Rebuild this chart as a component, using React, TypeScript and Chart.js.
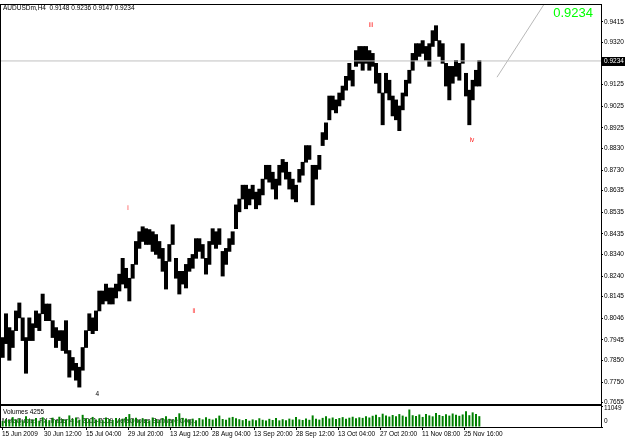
import React, { useEffect, useRef } from 'react';
import { Chart, registerables } from 'chart.js';
Chart.register(...registerables);

// ---------- data ----------
const titleText = 'AUDUSDm,H4  0.9148 0.9236 0.9147 0.9234';
const lastPrice = 0.9234;
const totalColumns = 180;

// high / low per column (each column groups a few H4 bars)
const priceHigh = [
  0.7956, 0.8066, 0.8002, 0.7988, 0.8079, 0.8116, 0.8047, 0.7956, 0.8047, 0.8020,
  0.8079, 0.8066, 0.8157, 0.8111, 0.8111, 0.8034, 0.8002, 0.7988, 0.7988, 0.8034,
  0.7896, 0.7864, 0.7837, 0.7819, 0.7910, 0.7988, 0.8066, 0.8047, 0.8079, 0.8171,
  0.8171, 0.8203, 0.8185, 0.8185, 0.8203, 0.8249, 0.8322, 0.8276, 0.8230, 0.8294,
  0.8400, 0.8445, 0.8468, 0.8459, 0.8455, 0.8445, 0.8432, 0.8400, 0.8368, 0.8308,
  0.8386, 0.8477, 0.8322, 0.8262, 0.8262, 0.8294, 0.8322, 0.8340, 0.8413, 0.8413,
  0.8386, 0.8322, 0.8400, 0.8459, 0.8445, 0.8459, 0.8354, 0.8368, 0.8413, 0.8445,
  0.8569, 0.8596, 0.8660, 0.8660, 0.8642, 0.8660, 0.8628, 0.8642, 0.8688, 0.8752,
  0.8752, 0.8720, 0.8688, 0.8752, 0.8779, 0.8766, 0.8720, 0.8688, 0.8660, 0.8733,
  0.8766, 0.8843, 0.8843, 0.8752, 0.8752, 0.8798, 0.8903, 0.8948, 0.9072, 0.9072,
  0.9054, 0.9086, 0.9118, 0.9163, 0.9223, 0.9191, 0.9282, 0.9301, 0.9301, 0.9301,
  0.9282, 0.9269, 0.9223, 0.9177, 0.9086, 0.9177, 0.9145, 0.9072, 0.9054, 0.9026,
  0.9086, 0.9145, 0.9191, 0.9269, 0.9314, 0.9314, 0.9328, 0.9301, 0.9314, 0.9374,
  0.9397, 0.9328, 0.9314, 0.9223, 0.9209, 0.9209, 0.9237, 0.9223, 0.9314, 0.9177,
  0.9099, 0.9145, 0.9191, 0.9236,
];
const priceLow = [
  0.7864, 0.7928, 0.7851, 0.7910, 0.7988, 0.8047, 0.7942, 0.7791, 0.7942, 0.7942,
  0.8002, 0.7988, 0.8066, 0.8034, 0.8034, 0.7956, 0.7910, 0.7942, 0.7896, 0.7883,
  0.7773, 0.7805, 0.7759, 0.7727, 0.7805, 0.7910, 0.7988, 0.7974, 0.7988, 0.8079,
  0.8111, 0.8125, 0.8111, 0.8111, 0.8139, 0.8171, 0.8203, 0.8185, 0.8125, 0.8230,
  0.8294, 0.8368, 0.8400, 0.8386, 0.8386, 0.8354, 0.8340, 0.8322, 0.8262, 0.8180,
  0.8308, 0.8386, 0.8230, 0.8157, 0.8203, 0.8185, 0.8262, 0.8276, 0.8322, 0.8354,
  0.8322, 0.8249, 0.8294, 0.8386, 0.8368, 0.8386, 0.8240, 0.8294, 0.8354, 0.8386,
  0.8459, 0.8537, 0.8596, 0.8551, 0.8569, 0.8596, 0.8551, 0.8569, 0.8615, 0.8688,
  0.8674, 0.8642, 0.8596, 0.8660, 0.8720, 0.8688, 0.8642, 0.8596, 0.8583, 0.8674,
  0.8706, 0.8766, 0.8779, 0.8569, 0.8688, 0.8733, 0.8843, 0.8871, 0.8962, 0.9008,
  0.8994, 0.9026, 0.9054, 0.9099, 0.9145, 0.9118, 0.9209, 0.9223, 0.9191, 0.9223,
  0.9191, 0.9209, 0.9131, 0.9086, 0.8939, 0.9086, 0.9054, 0.8980, 0.8962, 0.8912,
  0.9008, 0.9072, 0.9131, 0.9191, 0.9237, 0.9255, 0.9269, 0.9237, 0.9209, 0.9301,
  0.9328, 0.9255, 0.9223, 0.9118, 0.9054, 0.9131, 0.9163, 0.9145, 0.9223, 0.9072,
  0.8939, 0.9054, 0.9118, 0.9118,
];
const volumes = [
  3200, 4100, 3600, 5200, 3900, 4400, 3500, 5600, 4200, 3800, 4700, 3300, 5100, 4000, 3600, 4900, 3700, 5400,
  4200, 3900, 6100, 4300, 5000, 3800, 6400, 4600, 4100, 5300, 3900, 4500, 3600, 5000, 4200, 3700, 4800, 4000,
  4400, 5200, 6800, 4300, 4900, 3800, 4600, 4100, 3500, 5000, 4200, 3700, 4700, 5600, 4300, 3900, 5200, 7200,
  4800, 4500, 3800, 4400, 3600, 4700, 4000, 5100, 4300, 3900, 4600, 6000, 4200, 3800, 4900, 5300, 4600, 4100,
  3600, 4200, 3300, 4000, 3500, 4600, 3800, 3400, 4300, 3700, 4800, 3500, 4100, 3600, 4400, 3900, 5200, 4000,
  3700, 4500, 3800, 6100, 4400, 3900, 4800, 5600, 4500, 5000, 4200, 4700, 5200, 4400, 4900, 5400, 4600, 5100,
  4800, 5600, 5000, 5900, 6400, 5200, 7000, 6100, 5500, 6300, 5700, 6800, 6000, 5400, 9200, 6200, 5800, 6600,
  5300, 6900, 6100, 5600, 7400, 6300, 5800, 6700, 6000, 7100, 6400, 5900, 6600, 8300, 6200, 7700, 6800, 5700,
];
const volumeMax = 11049;
const volumeTicks = [11049, 0];
const volumeTitle = 'Volumes 4255';
const copyrightText = 'MetaQuotes FX Trader 4 \u00a9 2001-2009 MetaQuotes Software Corp.';

const priceAxisMax = 0.9493;
const priceAxisMin = 0.7649;
const priceTicks = [
  0.9415, 0.932, 0.9125, 0.9025, 0.8925, 0.883, 0.873, 0.8635, 0.8535, 0.8435,
  0.834, 0.824, 0.8145, 0.8046, 0.7945, 0.785, 0.775, 0.7655,
];

const dateLabels = [
  '15 Jun 2009', '30 Jun 12:00', '15 Jul 04:00', '29 Jul 20:00', '13 Aug 12:00', '28 Aug 04:00',
  '13 Sep 20:00', '28 Sep 12:00', '13 Oct 04:00', '27 Oct 20:00', '11 Nov 08:00', '25 Nov 16:00',
];
const dateColumns = [-0.2, 12.4, 25.0, 37.6, 50.2, 62.8, 75.4, 88.0, 100.6, 113.2, 125.8, 138.4];

const waveText = ['i', 'ii', 'iii', 'iv', '4'];
const waveColumn = [37.6, 57.4, 110.5, 140.8, 28.4];
const wavePrice = [0.8555, 0.8079, 0.9397, 0.8866, 0.7695];
const waveColor = ['#ff2020', '#ff2020', '#ff2020', '#ff2020', '#000000'];

const trendColumns = [148.3, 162.3];
const trendPrices = [0.9159, 0.9493];

// ---------- styling ----------
const FONT = 'Liberation Sans';
const W = 625;
const AXIS_W = 24;

export default function App() {
  const mainRef = useRef<HTMLCanvasElement>(null);
  const volRef = useRef<HTMLCanvasElement>(null);

  useEffect(() => {
    const frame = {
      id: 'frame',
      afterDraw(chart: any) {
        const { ctx, chartArea } = chart;
        ctx.save();
        ctx.strokeStyle = '#000';
        ctx.lineWidth = 1;
        ctx.strokeRect(0.5, Math.round(chartArea.top) - 0.5, Math.round(chartArea.right), Math.round(chartArea.bottom - chartArea.top) + 1);
        ctx.restore();
      },
    };

    const mainDecor = {
      id: 'mainDecor',
      afterDraw(chart: any) {
        const { ctx, scales, chartArea } = chart;
        const xs = scales.x;
        const ys = scales.y;
        ctx.save();
        ctx.fillStyle = '#000';
        ctx.font = `6.5px "${FONT}"`;
        ctx.textBaseline = 'alphabetic';
        ctx.textAlign = 'left';
        ctx.fillText(titleText, 3, 10);
        ctx.fillStyle = '#00ff00';
        ctx.font = `13px "${FONT}"`;
        ctx.textAlign = 'right';
        ctx.fillText(lastPrice.toFixed(4), 593, 17);
        ctx.font = `6.5px "${FONT}"`;
        ctx.textAlign = 'center';
        ctx.textBaseline = 'middle';
        waveText.forEach((t, i) => {
          ctx.fillStyle = waveColor[i];
          ctx.fillText(t, xs.getPixelForValue(waveColumn[i]), ys.getPixelForValue(wavePrice[i]));
        });
        const py = Math.round(ys.getPixelForValue(lastPrice));
        ctx.fillStyle = '#000';
        ctx.fillRect(chartArea.right + 1, py - 4, AXIS_W - 1, 9);
        ctx.fillStyle = '#fff';
        ctx.textAlign = 'left';
        ctx.fillText(lastPrice.toFixed(4), chartArea.right + 3, py + 0.5);
        ctx.restore();
      },
    };

    const main = new Chart(mainRef.current!, {
      type: 'bar',
      data: {
        datasets: [
          {
            type: 'line',
            data: [
              { x: -0.5, y: lastPrice },
              { x: totalColumns - 0.5, y: lastPrice },
            ],
            borderColor: '#c0c0c0',
            borderWidth: 1,
            pointRadius: 0,
          } as any,
          {
            type: 'line',
            data: trendColumns.map((c, i) => ({ x: c, y: trendPrices[i] })),
            borderColor: '#b8b8b8',
            borderWidth: 1,
            pointRadius: 0,
          } as any,
          {
            type: 'bar',
            data: priceHigh.map((h, i) => ({ x: i, y: [priceLow[i], h] })),
            backgroundColor: '#000',
            borderWidth: 0,
            barPercentage: 1,
            categoryPercentage: 1,
            grouped: false,
          } as any,
        ],
      },
      options: {
        animation: false,
        responsive: false,
        maintainAspectRatio: false,
        devicePixelRatio: 1,
        layout: { padding: { left: 1, top: 1, right: 0, bottom: 8 } },
        plugins: { legend: { display: false }, tooltip: { enabled: false } },
        scales: {
          x: { type: 'linear', min: -0.5, max: totalColumns - 0.5, display: false, offset: false },
          y: {
            position: 'right',
            min: priceAxisMin,
            max: priceAxisMax,
            afterFit: (s: any) => {
              s.width = AXIS_W;
            },
            afterBuildTicks: (s: any) => {
              s.ticks = priceTicks.map((v) => ({ value: v }));
            },
            ticks: {
              font: { family: FONT, size: 6.5 },
              color: '#000',
              padding: 1,
              callback: (v: any) => Number(v).toFixed(4),
            },
            grid: { drawOnChartArea: false, tickLength: 2, color: '#000' },
            border: { display: false },
          },
        },
      } as any,
      plugins: [frame, mainDecor],
    });

    const volDecor = {
      id: 'volDecor',
      beforeDatasetsDraw(chart: any) {
        const { ctx, chartArea } = chart;
        ctx.save();
        ctx.fillStyle = '#000';
        ctx.font = `6.5px "${FONT}"`;
        ctx.textAlign = 'left';
        ctx.textBaseline = 'alphabetic';
        ctx.fillText(volumeTitle, 3, chartArea.top + 8);
        ctx.fillText(copyrightText, 2, chartArea.top + 17);
        ctx.restore();
      },
      afterDraw(chart: any) {
        const { ctx, chartArea, scales } = chart;
        const ys = scales.y;
        ctx.save();
        ctx.fillStyle = '#000';
        ctx.font = `6.5px "${FONT}"`;
        ctx.textAlign = 'left';
        ctx.textBaseline = 'middle';
        volumeTicks.forEach((v, i) => {
          const y = ys.getPixelForValue(v) + (i === 0 ? 2.5 : -6);
          ctx.fillText(String(v), chartArea.right + 3, y);
        });
        ctx.restore();
      },
    };

    const vol = new Chart(volRef.current!, {
      type: 'bar',
      data: {
        datasets: [
          {
            data: volumes.map((v, i) => ({ x: i, y: v })),
            backgroundColor: '#008000',
            borderWidth: 0,
            barPercentage: 0.6,
            categoryPercentage: 1,
          },
        ],
      },
      options: {
        animation: false,
        responsive: false,
        maintainAspectRatio: false,
        devicePixelRatio: 1,
        layout: { padding: { left: 1, top: 6, right: 0, bottom: 0 } },
        plugins: { legend: { display: false }, tooltip: { enabled: false } },
        scales: {
          x: {
            type: 'linear',
            min: -0.5,
            max: totalColumns - 0.5,
            offset: false,
            afterFit: (s: any) => {
              s.height = 11;
            },
            afterBuildTicks: (s: any) => {
              s.ticks = dateColumns.map((v) => ({ value: v }));
            },
            ticks: {
              font: { family: FONT, size: 6.5 },
              color: '#000',
              padding: 0,
              align: 'start',
              autoSkip: false,
              maxRotation: 0,
              callback: (_v: any, i: number) => dateLabels[i],
            },
            grid: { drawOnChartArea: false, tickLength: 3, color: '#000', offset: false },
            border: { display: false },
          },
          y: {
            position: 'right',
            min: 0,
            max: volumeMax,
            afterFit: (s: any) => {
              s.width = AXIS_W;
            },
            afterBuildTicks: (s: any) => {
              s.ticks = volumeTicks.map((v) => ({ value: v }));
            },
            ticks: { display: false },
            grid: { drawOnChartArea: false, tickLength: 2, color: '#000' },
            border: { display: false },
          },
        },
      } as any,
      plugins: [frame, volDecor],
    });

    return () => {
      main.destroy();
      vol.destroy();
    };
  }, []);

  return (
    <div style={{ position: 'fixed', left: 0, top: 0, width: W, height: 438, background: '#fff' }}>
      <canvas ref={mainRef} width={W} height={412} style={{ position: 'absolute', left: 0, top: 0, width: W, height: 412 }} />
      <canvas ref={volRef} width={W} height={38} style={{ position: 'absolute', left: 0, top: 400, width: W, height: 38 }} />
    </div>
  );
}
